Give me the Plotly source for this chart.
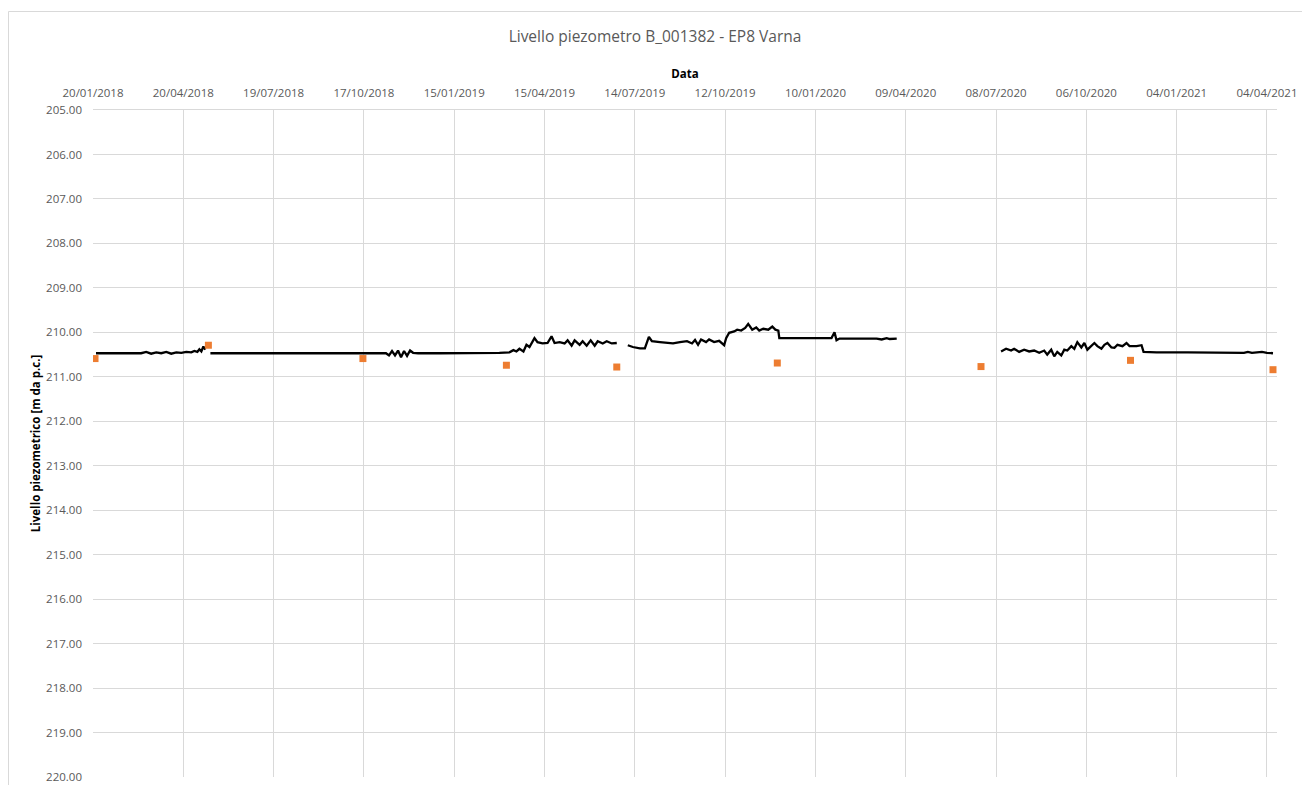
import plotly.graph_objects as go

# ---- data ----
# Continuous logger series (None marks gaps in the record)
line_dates = [
    # segment 1
    "2018-01-23", "2018-01-28", "2018-02-02", "2018-02-07", "2018-02-12", "2018-02-17",
    "2018-02-22", "2018-02-27", "2018-03-04", "2018-03-09", "2018-03-14", "2018-03-19",
    "2018-03-24", "2018-03-29", "2018-04-03", "2018-04-08", "2018-04-13", "2018-04-18",
    "2018-04-23", "2018-04-28", "2018-05-01", "2018-05-04", "2018-05-06", "2018-05-08",
    "2018-05-10", "2018-05-12",
    "2018-05-14",
    # segment 2
    "2018-05-17", "2018-06-15", "2018-07-15", "2018-08-15", "2018-09-15", "2018-10-15",
    "2018-11-08", "2018-11-11", "2018-11-14", "2018-11-17", "2018-11-20", "2018-11-23",
    "2018-11-26", "2018-11-29", "2018-12-02", "2018-12-05", "2018-12-10", "2019-01-01",
    "2019-02-01", "2019-03-01", "2019-03-11", "2019-03-15", "2019-03-18", "2019-03-21",
    "2019-03-25", "2019-03-28", "2019-03-31", "2019-04-05", "2019-04-08", "2019-04-13",
    "2019-04-18", "2019-04-22", "2019-04-25", "2019-04-30", "2019-05-05", "2019-05-08",
    "2019-05-12", "2019-05-15", "2019-05-20", "2019-05-23", "2019-05-27", "2019-05-31",
    "2019-06-04", "2019-06-07", "2019-06-12", "2019-06-16", "2019-06-21", "2019-06-26",
    "2019-07-01",
    # segment 3
    "2019-07-07", "2019-07-12", "2019-07-19", "2019-07-24", "2019-07-28", "2019-07-31",
    "2019-08-08", "2019-08-15", "2019-08-21", "2019-08-28", "2019-09-04", "2019-09-09",
    "2019-09-12", "2019-09-15", "2019-09-18", "2019-09-23", "2019-09-26", "2019-10-01",
    "2019-10-06", "2019-10-11", "2019-10-13", "2019-10-16", "2019-10-21", "2019-10-24",
    "2019-10-28", "2019-11-01", "2019-11-04", "2019-11-08", "2019-11-12", "2019-11-15",
    "2019-11-19", "2019-11-24", "2019-11-28", "2019-12-01", "2019-12-04", "2019-12-05",
    "2020-01-26", "2020-01-29", "2020-01-31", "2020-02-03", "2020-03-11", "2020-03-16",
    "2020-03-21", "2020-03-24", "2020-03-31",
    "2020-05-01",
    # segment 4
    "2020-07-13", "2020-07-18", "2020-07-23", "2020-07-26", "2020-07-31", "2020-08-05",
    "2020-08-10", "2020-08-15", "2020-08-20", "2020-08-25", "2020-08-28", "2020-09-01",
    "2020-09-04", "2020-09-07", "2020-09-11", "2020-09-14", "2020-09-17", "2020-09-21",
    "2020-09-24", "2020-09-27", "2020-10-01", "2020-10-04", "2020-10-07", "2020-10-11",
    "2020-10-14", "2020-10-17", "2020-10-21", "2020-10-24", "2020-10-27", "2020-10-31",
    "2020-11-03", "2020-11-06", "2020-11-11", "2020-11-15", "2020-11-18", "2020-11-25",
    "2020-11-30", "2020-12-02", "2020-12-15", "2021-01-15", "2021-02-15", "2021-03-09",
    "2021-03-12", "2021-03-16", "2021-03-20", "2021-03-25", "2021-03-30", "2021-04-04",
    "2021-04-10",
]
line_values = [
    # segment 1
    210.47, 210.47, 210.46, 210.47, 210.47, 210.46,
    210.47, 210.47, 210.46, 210.47, 210.44, 210.48,
    210.45, 210.47, 210.44, 210.48, 210.45, 210.46,
    210.44, 210.45, 210.42, 210.44, 210.38, 210.43,
    210.32, 210.39,
    None,
    # segment 2
    210.47, 210.47, 210.46, 210.47, 210.47, 210.47,
    210.47, 210.52, 210.42, 210.52, 210.41, 210.56,
    210.42, 210.53, 210.41, 210.46, 210.47, 210.47,
    210.47, 210.46, 210.45, 210.40, 210.43, 210.37,
    210.43, 210.28, 210.33, 210.13, 210.22, 210.25,
    210.24, 210.09, 210.24, 210.22, 210.25, 210.18,
    210.30, 210.18, 210.28, 210.20, 210.30, 210.18,
    210.30, 210.20, 210.25, 210.20, 210.25, 210.24,
    None,
    # segment 3
    210.29, 210.33, 210.36, 210.36, 210.10, 210.20,
    210.22, 210.23, 210.25, 210.22, 210.20, 210.25,
    210.17, 210.28, 210.16, 210.22, 210.16, 210.22,
    210.19, 210.29, 210.13, 210.01, 209.98, 209.94,
    209.96, 209.90, 209.81, 209.94, 209.89, 209.96,
    209.92, 209.94, 209.87, 209.94, 209.96, 210.13,
    210.13, 210.00, 210.18, 210.14, 210.14, 210.16,
    210.13, 210.15, 210.14,
    None,
    # segment 4
    210.43, 210.37, 210.41, 210.37, 210.44, 210.39,
    210.43, 210.41, 210.46, 210.41, 210.50, 210.39,
    210.54, 210.44, 210.52, 210.39, 210.41, 210.31,
    210.37, 210.22, 210.34, 210.24, 210.39, 210.29,
    210.24, 210.31, 210.37, 210.28, 210.24, 210.34,
    210.35, 210.28, 210.31, 210.24, 210.31, 210.31,
    210.29, 210.44, 210.45, 210.45, 210.45, 210.45,
    210.46, 210.44, 210.46, 210.45, 210.44, 210.46,
    210.47,
]

# Manual readings
manual_dates = ["2018-01-22", "2018-05-15", "2018-10-16", "2019-03-08", "2019-06-26",
                "2019-12-03", "2020-06-23", "2020-11-19", "2021-04-10"]
manual_values = [210.59, 210.29, 210.59, 210.74, 210.78, 210.69, 210.77, 210.63, 210.84]

title_text = "Livello piezometro B_001382 - EP8 Varna"
x_title = "Data"
y_title = "Livello piezometrico [m da p.c.]"
x_range = ["2018-01-20", "2021-04-14"]
y_range = [220, 205]

# ---- figure ----
FONT = "Open Sans"
GREY_TXT = "#595959"
GRID = "#d9d9d9"

# page body has an 8 px margin, so the figure is sized to fit the window
W, H = 1302, 777
L, T, R, B = 85, 102, 33, 8
PW, PH = W - L - R, H - T - B

fig = go.Figure()
fig.add_trace(go.Scatter(
    x=line_dates, y=line_values, mode="lines",
    line=dict(color="#000000", width=2.3), connectgaps=False,
    name="Livello", hoverinfo="x+y",
))
fig.add_trace(go.Scatter(
    x=manual_dates, y=manual_values, mode="markers",
    marker=dict(symbol="square", size=7, color="#ED7D31"),
    name="Manuale",
))

fig.update_layout(
    width=W, height=H,
    paper_bgcolor="white", plot_bgcolor="white",
    showlegend=False,
    margin=dict(l=L, r=R, t=T, b=B, autoexpand=False),
    font=dict(family=FONT, color=GREY_TXT),
    title=dict(text=title_text, x=(647 - L) / PW, xref="paper", xanchor="center",
               y=1 - 29 / H, yref="container", yanchor="middle",
               font=dict(family=FONT, size=15.5, color=GREY_TXT)),
)

fig.update_xaxes(
    type="date", side="top", range=x_range, automargin=False,
    tick0=x_range[0], dtick=90 * 86400000, tickformat="%d/%m/%Y",
    showgrid=True, gridcolor=GRID, gridwidth=1,
    showline=True, linecolor=GRID, linewidth=1,
    ticks="", ticklabelstandoff=7,
    tickfont=dict(family=FONT, size=11.5, color=GREY_TXT),
    title=dict(text="<b>" + x_title + "</b>", standoff=4,
               font=dict(family=FONT, size=11.5, color="#000000")),
    zeroline=False,
)
fig.update_yaxes(
    range=y_range, tick0=205, dtick=1, tickformat=".2f", automargin=False,
    showgrid=True, gridcolor=GRID, gridwidth=1,
    showline=False, ticks="", ticklabelstandoff=10,
    tickfont=dict(family=FONT, size=11.5, color=GREY_TXT),
    title=dict(text="<b>" + y_title + "</b>", standoff=3,
               font=dict(family=FONT, size=11.5, color="#000000")),
    zeroline=False,
)

# outer chart-area border (as in the source workbook)
fig.add_shape(type="rect", xref="paper", yref="paper",
              x0=(0.5 - L) / PW, x1=1.1,
              y0=-0.2, y1=1 + (T - 3.5) / PH,
              line=dict(color=GRID, width=1), fillcolor="rgba(0,0,0,0)", layer="below")

fig.write_html("out.html")
